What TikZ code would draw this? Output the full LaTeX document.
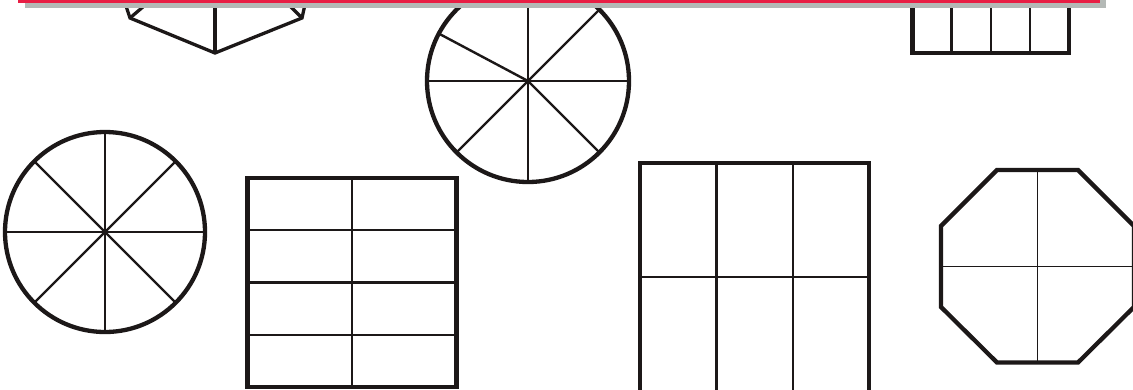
\documentclass[tikz,border=0pt]{standalone}
\usepackage{tikz}
\definecolor{ink}{HTML}{1C1818}
\definecolor{bannerred}{HTML}{E81E44}
\definecolor{shadowgray}{HTML}{B4B9B6}
\tikzset{
  outer/.style={draw=ink, line width=4.3pt, line join=miter},
  inner/.style={draw=ink, line width=2.4pt},
  thin/.style={draw=ink, line width=1.8pt},
  hexline/.style={draw=ink, line width=3.3pt, line join=miter},
}
\begin{document}
\begin{tikzpicture}[x=1pt, y=-1pt]
\useasboundingbox (0,0) rectangle (1133,389);
\fill[white] (0,0) rectangle (1133,389);

% hexagon (top left, cut by the banner)
\draw[hexline] (124,0) -- (130,18) -- (215,53) -- (302,18) -- (306,0);
\draw[hexline] (130,18) -- (151,0);
\draw[hexline] (302,18) -- (284,0);
\draw[hexline] (215,53) -- (215,0);

% top circle
\begin{scope}[shift={(528,81)}]
  \foreach \a in {0,45,90,152,180,225,270,315}
    \draw[inner] (0,0) -- ({101*cos(\a)},{-101*sin(\a)});
  \draw[outer] (0,0) circle (101);
\end{scope}

% top right rectangle
\draw[outer] (912.5,0) -- (912.5,53) -- (1069,53) -- (1069,0);
\foreach \x in {951.6,990.8,1029.9}
  \draw[inner] (\x,0) -- (\x,53);

% left circle
\begin{scope}[shift={(105,232)}]
  \foreach \a in {0,45,...,315}
    \draw[inner] (0,0) -- ({100*cos(\a)},{-100*sin(\a)});
  \draw[outer] (0,0) circle (100);
\end{scope}

% 2x4 grid
\foreach \y in {230.25,282.5,334.75}
  \draw[inner] (247.5,\y) -- (456.5,\y);
\draw[inner] (352,178) -- (352,387);
\draw[outer] (247.5,178) rectangle (456.5,387);

% 3x2 grid
\draw[inner] (640,276.7) -- (869,276.7);
\foreach \x in {716.3,792.7}
  \draw[inner] (\x,163.3) -- (\x,392);
\draw[outer] (640,392) -- (640,163.3) -- (869,163.3) -- (869,392);

% octagon
\draw[thin] (1037.5,170) -- (1037.5,362.5);
\draw[thin] (941,266.5) -- (1134,266.5);
\draw[outer] (997,170) -- (1078,170) -- (1134,226) -- (1134,307) -- (1078,362.5)
  -- (997,362.5) -- (941,307) -- (941,226) -- cycle;

% banner
\fill[shadowgray] (25,-20) rectangle (1106,8);
\fill[bannerred] (18,-20) rectangle (1100,2.7);
\end{tikzpicture}
\end{document}
